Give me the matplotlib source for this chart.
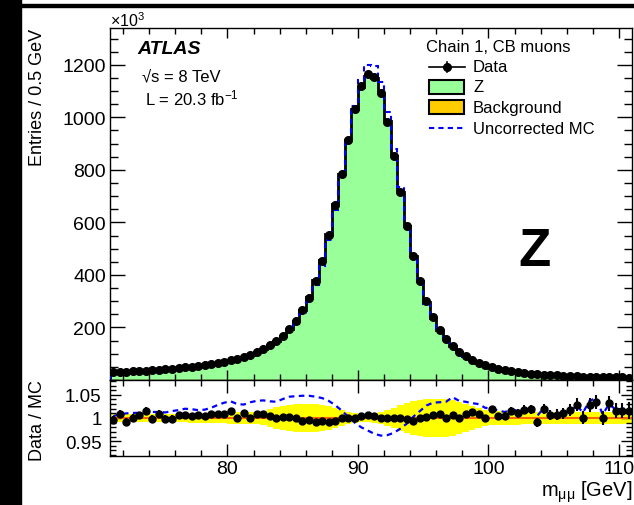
import numpy as np
import matplotlib
matplotlib.use("Agg")
import matplotlib.pyplot as plt
from matplotlib.patches import Rectangle
from matplotlib.lines import Line2D
from matplotlib.ticker import MultipleLocator, FixedLocator, FixedFormatter

plt.rcParams['font.family'] = ['Liberation Sans', 'DejaVu Sans']
plt.rcParams['mathtext.default'] = 'regular'

# ---------------- data ----------------
mass_lo, mass_hi, bin_width = 71.0, 111.0, 0.5

# Data entries per 0.5 GeV bin (x10^3)
data_k = [30, 31, 32, 33, 34, 36, 37, 39, 41, 43,
          45, 48, 50, 53, 57, 60, 64, 69, 75, 81,
          88, 97, 107, 118, 134, 150, 169, 195, 225, 265,
          313, 378, 454, 551, 665, 786, 913, 1032, 1121, 1165,
          1155, 1092, 984, 852, 716, 585, 471, 377, 299, 239,
          191, 156, 131, 108, 92, 78, 66, 56, 48, 42,
          37, 33, 30, 27, 24.5, 22.5, 20.5, 19, 17.5, 16.3,
          15.2, 14.2, 13.3, 12.5, 11.8, 11.2, 10.6, 10.1, 9.6, 9.2]

# Background (x10^3)
bkg_k = [1.8, 1.8, 1.8, 1.7, 1.7, 1.7, 1.7, 1.6, 1.6, 1.6,
         1.6, 1.6, 1.5, 1.5, 1.5, 1.5, 1.5, 1.5, 1.5, 1.5,
         1.5, 1.5, 1.5, 1.5, 1.5, 1.5, 1.5, 1.5, 1.5, 1.5,
         1.5, 1.5, 1.5, 1.5, 1.5, 1.5, 1.5, 1.5, 1.5, 1.5,
         1.5, 1.5, 1.5, 1.5, 1.5, 1.4, 1.4, 1.4, 1.4, 1.3,
         1.3, 1.3, 1.2, 1.2, 1.2, 1.1, 1.1, 1.1, 1.0, 1.0,
         1.0, 1.0, 0.9, 0.9, 0.9, 0.9, 0.8, 0.8, 0.8, 0.8,
         0.8, 0.7, 0.7, 0.7, 0.7, 0.7, 0.7, 0.6, 0.6, 0.6]

# Data / MC ratio and its error
ratio_data = [0.996, 1.009, 0.992, 1.000, 1.006, 1.016, 0.998, 1.009, 0.998, 0.998,
              1.006, 1.007, 1.004, 1.007, 1.004, 1.009, 1.009, 1.009, 1.015, 1.001,
              1.010, 1.000, 1.008, 1.008, 1.005, 0.999, 1.002, 1.002, 0.999, 0.993,
              0.995, 0.991, 0.993, 0.991, 0.993, 1.000, 1.000, 1.000, 1.005, 1.007,
              1.004, 1.001, 0.999, 0.999, 1.001, 0.998, 0.994, 0.999, 1.003, 1.006,
              1.008, 1.000, 1.006, 1.001, 1.008, 1.012, 1.009, 1.001, 1.019, 1.004,
              1.005, 1.015, 1.010, 1.018, 1.019, 0.991, 1.019, 1.006, 1.007, 1.010,
              1.018, 1.029, 1.001, 1.029, 1.035, 1.000, 1.032, 1.016, 1.016, 1.016]
ratio_err = [0.009, 0.009, 0.009, 0.009, 0.008, 0.008, 0.008, 0.008, 0.008, 0.008,
             0.007, 0.007, 0.007, 0.007, 0.006, 0.006, 0.006, 0.006, 0.005, 0.005,
             0.005, 0.005, 0.004, 0.004, 0.004, 0.003, 0.003, 0.003, 0.003, 0.002,
             0.002, 0.002, 0.002, 0.002, 0.002, 0.002, 0.002, 0.002, 0.002, 0.002,
             0.002, 0.002, 0.002, 0.002, 0.002, 0.002, 0.002, 0.002, 0.002, 0.002,
             0.003, 0.003, 0.004, 0.004, 0.005, 0.005, 0.006, 0.006, 0.007, 0.007,
             0.008, 0.008, 0.009, 0.009, 0.010, 0.010, 0.011, 0.011, 0.012, 0.012,
             0.013, 0.014, 0.014, 0.015, 0.015, 0.016, 0.016, 0.017, 0.017, 0.018]

# Data / uncorrected MC
ratio_uncorr = [1.004, 1.008, 1.010, 1.011, 1.011, 1.012, 1.013, 1.013, 1.012, 1.015,
                1.017, 1.020, 1.019, 1.017, 1.018, 1.022, 1.028, 1.033, 1.036, 1.030,
                1.029, 1.034, 1.037, 1.038, 1.036, 1.035, 1.041, 1.046, 1.047, 1.048,
                1.048, 1.046, 1.043, 1.037, 1.028, 1.016, 1.003, 0.990, 0.980, 0.973,
                0.966, 0.962, 0.963, 0.968, 0.977, 0.988, 1.003, 1.015, 1.027, 1.033,
                1.034, 1.035, 1.045, 1.037, 1.035, 1.032, 1.030, 1.022, 1.020, 1.016,
                1.013, 1.018, 1.016, 1.020, 1.020, 1.005, 1.022, 1.008, 1.005, 1.007,
                1.013, 1.027, 1.012, 1.037, 1.043, 1.008, 1.030, 1.018, 1.020, 1.020]

# Systematic band half-width on the ratio
band_half = [0.009, 0.009, 0.009, 0.009, 0.009, 0.009, 0.009, 0.009, 0.009, 0.009,
             0.009, 0.009, 0.010, 0.010, 0.010, 0.010, 0.010, 0.010, 0.012, 0.012,
             0.012, 0.012, 0.012, 0.015, 0.019, 0.023, 0.026, 0.029, 0.030, 0.031,
             0.031, 0.030, 0.028, 0.025, 0.021, 0.017, 0.013, 0.010, 0.009, 0.009,
             0.010, 0.013, 0.017, 0.022, 0.027, 0.032, 0.036, 0.039, 0.041, 0.042,
             0.042, 0.041, 0.039, 0.035, 0.030, 0.025, 0.021, 0.018, 0.016, 0.016,
             0.015, 0.015, 0.015, 0.014, 0.014, 0.014, 0.014, 0.014, 0.013, 0.013,
             0.013, 0.013, 0.013, 0.013, 0.013, 0.013, 0.013, 0.013, 0.013, 0.013]

x_major = [80, 90, 100, 110]
y_major = [200, 400, 600, 800, 1000, 1200]
r_major = [0.95, 1.0, 1.05]
r_labels = ['0.95', '1', '1.05']

# ---------------- derived ----------------
data = np.array(data_k, float)
bkg = np.array(bkg_k, float)
rdat = np.array(ratio_data)
runc = np.array(ratio_uncorr)
edges = np.linspace(mass_lo, mass_hi, len(data) + 1)
centers = 0.5 * (edges[:-1] + edges[1:])
mc_total = data / rdat
uncorr = data / runc
band = np.array(band_half)

W, H = 634, 506
fig = plt.figure(figsize=(W / 100, H / 100), dpi=100)

def fx(px):
    return px / W

def fy(py):
    return 1 - py / H

# frame decorations of the original picture
fig.add_artist(Rectangle((0, 0), fx(21), 1, transform=fig.transFigure, color='black', zorder=0))
fig.add_artist(Rectangle((0, fy(8)), 1, 3 / H, transform=fig.transFigure, color='black', zorder=0))

L, R = 110, 632
ax = fig.add_axes([fx(L), fy(381), fx(R - L), (381 - 29) / H])
ax2 = fig.add_axes([fx(L), fy(457), fx(R - L), (457 - 381) / H])

green = '#99ff99'
orange = '#ffcc00'

# main panel
ax.stairs(mc_total, edges, fill=True, color=green, zorder=1)
ax.stairs(bkg, edges, fill=True, color=orange, zorder=2)
ax.stairs(mc_total, edges, color='black', lw=2.0, zorder=3)
ax.stairs(bkg, edges, color='#666600', lw=1.0, zorder=3)
ax.stairs(uncorr, edges, color='blue', lw=1.5, ls=(0, (2.5, 2)), zorder=4)
ax.plot(centers, data, 'o', color='black', ms=5.5, zorder=5)

ax.set_xlim(mass_lo, mass_hi)
ax.set_ylim(0, 1340)
ax.xaxis.set_major_locator(FixedLocator(x_major))
ax.xaxis.set_minor_locator(MultipleLocator(2))
ax.yaxis.set_major_locator(FixedLocator(y_major))
ax.yaxis.set_minor_locator(MultipleLocator(50))
ax.tick_params(axis='x', which='both', labelbottom=False)
ax.tick_params(which='both', direction='in', top=True, right=True, width=1)
ax.tick_params(axis='x', which='major', length=7)
ax.tick_params(axis='x', which='minor', length=4)
ax.tick_params(axis='y', which='major', length=11, labelsize=14, pad=3)
ax.tick_params(axis='y', which='minor', length=5.5)

# ratio panel
ax2.stairs(1 + band, edges, baseline=1 - band, fill=True, color='#ffff00', zorder=1)
ax2.axhline(1.0, color='#ff6600', lw=1.5, zorder=2)
ax2.plot(centers, runc, color='blue', lw=1.6, ls=(0, (2.5, 2)), zorder=3)
ax2.errorbar(centers, rdat, yerr=ratio_err, fmt='o', color='black', ms=5,
             elinewidth=1.5, capsize=0, zorder=4)
ax2.set_xlim(mass_lo, mass_hi)
ax2.set_ylim(0.918, 1.082)
ax2.xaxis.set_major_locator(FixedLocator(x_major))
ax2.xaxis.set_minor_locator(MultipleLocator(2))
ax2.yaxis.set_major_locator(FixedLocator(r_major))
ax2.yaxis.set_major_formatter(FixedFormatter(r_labels))
ax2.yaxis.set_minor_locator(MultipleLocator(0.01))
ax2.tick_params(which='both', direction='in', top=True, right=True, width=1)
ax2.tick_params(axis='x', which='major', length=9, labelsize=14, pad=3)
ax2.tick_params(axis='x', which='minor', length=4.5)
ax2.tick_params(axis='y', which='major', length=8, labelsize=13.5, pad=6)
ax2.tick_params(axis='y', which='minor', length=4)

for a in (ax, ax2):
    for s in a.spines.values():
        s.set_linewidth(1.0)

# labels
fig.text(fx(37), fy(29), 'Entries / 0.5 GeV', rotation=90, ha='center', va='top', fontsize=13)
fig.text(fx(37), fy(421), 'Data / MC', rotation=90, ha='center', va='center', fontsize=13)
fig.text(fx(632), fy(492), 'm$_{μμ}$ [GeV]', ha='right', va='center', fontsize=14.5)
fig.text(fx(110), fy(21), '×10$^{3}$', ha='left', va='center', fontsize=11.5)

fig.text(fx(137), fy(50), 'ATLAS', ha='left', va='center', fontsize=14,
         fontweight='bold', fontstyle='italic')
fig.text(fx(142), fy(77), '√s = 8 TeV', ha='left', va='center', fontsize=12)
fig.text(fx(145), fy(98), 'L = 20.3 fb$^{-1}$', ha='left', va='center', fontsize=12)
fig.text(fx(534), fy(252), 'Z', ha='center', va='center', fontsize=38, fontweight='bold')

# legend (manual, in pixel positions)
fig.text(fx(426), fy(47), 'Chain 1, CB muons', ha='left', va='center', fontsize=12)
leg_y = {'Data': 68, 'Z': 88, 'Background': 108, 'Uncorrected MC': 129}
fig.add_artist(Line2D([fx(429), fx(465)], [fy(68), fy(68)], color='black', lw=1.2,
                      transform=fig.transFigure))
fig.add_artist(Line2D([fx(447)], [fy(68)], marker='o', ms=5.5, color='black',
                      transform=fig.transFigure))
fig.add_artist(Line2D([fx(447), fx(447)], [fy(63), fy(73)], color='black', lw=1.2,
                      transform=fig.transFigure))
fig.add_artist(Rectangle((fx(429), fy(95)), fx(35), 14 / H, transform=fig.transFigure,
                         facecolor=green, edgecolor='black', lw=1.5))
fig.add_artist(Rectangle((fx(429), fy(115)), fx(35), 14 / H, transform=fig.transFigure,
                         facecolor=orange, edgecolor='black', lw=1.5))
fig.add_artist(Line2D([fx(429), fx(465)], [fy(129), fy(129)], color='blue', lw=1.5,
                      ls=(0, (2.5, 2)), transform=fig.transFigure))
for lab, yy in leg_y.items():
    fig.text(fx(473), fy(yy), lab, ha='left', va='center', fontsize=12)

fig.savefig('out.png', dpi=100)
